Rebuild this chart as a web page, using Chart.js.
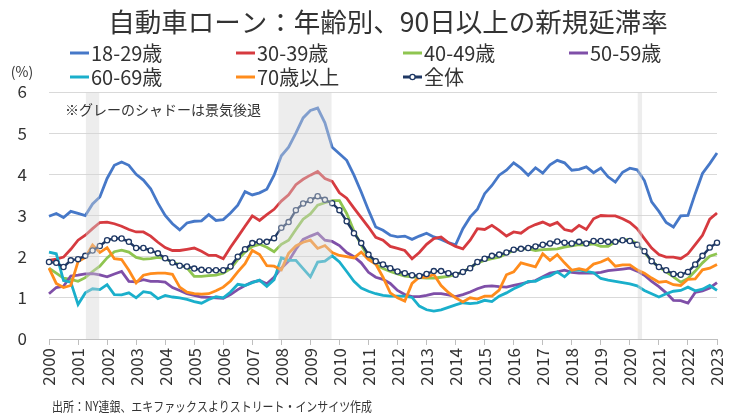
<!DOCTYPE html>
<html><head><meta charset="utf-8">
<script src="https://cdn.jsdelivr.net/npm/chart.js@4.4.1/dist/chart.umd.min.js"></script>
<style>html,body{margin:0;padding:0;background:#fff;}canvas{display:block;}</style>
</head><body>
<canvas id="c" width="733" height="419"></canvas>
<script>
const FONT = '"Noto Sans CJK JP","Noto Sans",sans-serif';
const TEXT = '#333333';

// quarterly categories 2000Q1 .. 2023Q1
const quarters = [];
for (let y = 2000; y <= 2023; y++) for (let q = 1; q <= 4; q++) { if (y === 2023 && q > 1) break; quarters.push(y + 'Q' + q); }

const seriesNames = ['18-29歳','30-39歳','40-49歳','50-59歳','60-69歳','70歳以上','全体'];

const age18_29 = [2.98,3.05,2.95,3.10,3.05,3.00,3.28,3.45,3.90,4.22,4.30,4.22,4.00,3.86,3.65,3.30,
3.00,2.80,2.65,2.82,2.86,2.87,3.02,2.88,2.90,3.06,3.25,3.58,3.50,3.55,3.64,3.98,
4.45,4.66,5.00,5.37,5.55,5.61,5.25,4.66,4.50,4.34,3.98,3.57,3.13,2.72,2.64,2.52,
2.48,2.50,2.42,2.50,2.57,2.48,2.42,2.34,2.29,2.68,2.96,3.15,3.53,3.73,3.98,4.10,
4.28,4.15,3.98,4.16,4.03,4.23,4.34,4.28,4.10,4.12,4.18,4.04,4.15,3.94,3.81,4.05,
4.15,4.11,3.85,3.33,3.10,2.83,2.72,2.99,3.00,3.53,4.02,4.26,4.52];

const age30_39 = [1.91,1.94,1.99,2.18,2.40,2.52,2.68,2.83,2.84,2.80,2.74,2.66,2.60,2.60,2.50,2.35,
2.22,2.15,2.15,2.18,2.21,2.13,2.03,2.03,1.95,2.23,2.48,2.74,2.99,2.88,3.02,3.15,
3.35,3.50,3.75,3.88,3.98,4.07,3.90,3.83,3.55,3.42,3.18,2.95,2.72,2.47,2.40,2.25,
2.20,2.15,1.95,2.10,2.30,2.44,2.48,2.34,2.25,2.19,2.40,2.68,2.66,2.76,2.64,2.50,
2.60,2.57,2.70,2.78,2.84,2.76,2.83,2.66,2.62,2.76,2.66,2.92,3.00,2.99,2.99,2.92,
2.83,2.68,2.44,2.21,2.05,1.99,1.99,1.95,2.07,2.29,2.52,2.91,3.06];

const age40_49 = [1.72,1.60,1.48,1.45,1.40,1.49,1.64,1.77,1.97,2.12,2.16,2.11,1.98,1.94,1.95,1.98,
1.95,1.87,1.80,1.73,1.52,1.52,1.54,1.55,1.60,1.71,1.93,2.11,2.25,2.30,2.23,2.12,
2.30,2.40,2.66,2.91,3.04,3.25,3.31,3.36,3.36,3.05,2.62,2.28,1.98,1.81,1.71,1.64,
1.58,1.53,1.51,1.49,1.48,1.48,1.50,1.52,1.56,1.63,1.73,1.85,1.91,1.95,1.99,2.07,
2.15,2.19,2.19,2.15,2.17,2.18,2.19,2.23,2.26,2.29,2.29,2.31,2.25,2.25,2.36,2.40,
2.42,2.31,2.11,1.89,1.75,1.63,1.51,1.38,1.47,1.65,1.85,2.01,2.07];

const age50_59 = [1.10,1.25,1.28,1.53,1.55,1.58,1.59,1.56,1.51,1.58,1.64,1.40,1.39,1.44,1.40,1.40,
1.38,1.25,1.18,1.10,1.06,1.02,1.01,1.00,0.99,1.08,1.20,1.30,1.38,1.42,1.34,1.50,
1.72,1.89,2.18,2.42,2.50,2.57,2.40,2.37,2.27,2.10,2.00,1.85,1.62,1.50,1.45,1.35,
1.18,1.08,1.03,1.03,1.06,1.10,1.10,1.07,1.03,1.08,1.14,1.22,1.28,1.29,1.27,1.26,
1.30,1.34,1.38,1.42,1.51,1.60,1.63,1.67,1.62,1.60,1.60,1.60,1.62,1.66,1.68,1.70,
1.72,1.65,1.55,1.40,1.27,1.12,0.94,0.93,0.87,1.13,1.17,1.24,1.37];

const age60_69 = [2.11,2.07,1.42,1.38,0.84,1.12,1.22,1.20,1.32,1.08,1.07,1.12,1.00,1.15,1.12,0.98,
1.06,1.02,1.00,0.96,0.91,0.87,0.96,1.03,1.00,1.14,1.33,1.30,1.37,1.43,1.28,1.44,
1.97,1.91,1.91,1.71,1.51,1.87,1.89,2.02,1.87,1.64,1.40,1.24,1.16,1.10,1.06,1.04,
1.04,1.04,1.01,0.80,0.71,0.68,0.71,0.77,0.83,0.88,0.86,0.88,0.94,0.91,1.04,1.12,
1.22,1.30,1.40,1.40,1.49,1.53,1.63,1.51,1.67,1.68,1.64,1.61,1.47,1.43,1.40,1.37,
1.34,1.29,1.18,1.10,1.02,1.10,1.16,1.18,1.26,1.17,1.21,1.30,1.18];

const age70plus = [1.72,1.35,1.25,1.30,1.88,1.98,2.28,2.10,2.22,1.95,1.93,1.67,1.36,1.55,1.59,1.60,
1.60,1.57,1.26,1.14,1.10,1.09,1.10,1.17,1.26,1.41,1.63,1.83,2.15,2.05,1.78,1.77,
1.68,2.08,2.26,2.35,2.40,2.20,2.27,2.10,2.03,2.00,1.97,2.11,1.93,1.82,1.50,1.12,
1.00,0.92,1.35,1.50,1.50,1.57,1.30,1.13,1.00,0.90,1.00,0.97,1.04,1.04,1.19,1.56,
1.63,1.85,1.80,1.75,2.07,1.91,2.05,1.85,1.67,1.71,1.67,1.82,1.87,1.95,1.77,1.80,
1.80,1.68,1.60,1.48,1.38,1.40,1.32,1.30,1.45,1.46,1.68,1.72,1.81];

const overall = [1.87,1.85,1.75,1.91,1.94,2.02,2.15,2.26,2.40,2.44,2.44,2.36,2.21,2.21,2.15,2.08,
1.96,1.86,1.78,1.76,1.71,1.68,1.67,1.67,1.67,1.76,2.00,2.18,2.33,2.37,2.36,2.45,
2.70,2.84,3.13,3.29,3.37,3.47,3.38,3.30,3.13,2.86,2.57,2.33,2.05,1.89,1.81,1.72,
1.64,1.60,1.55,1.53,1.58,1.65,1.65,1.60,1.56,1.63,1.72,1.87,1.95,2.02,2.05,2.10,
2.17,2.19,2.21,2.25,2.29,2.32,2.37,2.34,2.32,2.36,2.32,2.38,2.38,2.36,2.36,2.40,
2.38,2.29,2.13,1.89,1.75,1.67,1.58,1.56,1.63,1.81,2.02,2.22,2.34];

const yTicks = [0,1,2,3,4,5,6];
// recession periods (fractional years)
const recessions = [[2001.27, 2001.73], [2007.90, 2009.73], [2020.27, 2020.42]];

const titleText = '自動車ローン：年齢別、90日以上の新規延滞率';
const noteText = '※グレーのシャドーは景気後退';
const sourceText = '出所：NY連銀、エキファックスよりストリート・インサイツ作成';
const unitText = '(%)';

const colors = ['#4678C8','#D63A3F','#8FC550','#7F4FA8','#1AAFCB','#FF8C1C','#1F3864'];
const values = [age18_29, age30_39, age40_49, age50_59, age60_69, age70plus, overall];

const datasets = values.map((v, k) => ({
  label: seriesNames[k],
  data: v,
  borderColor: colors[k],
  backgroundColor: colors[k],
  borderWidth: k === 6 ? 2.4 : 2.8,
  pointRadius: k === 6 ? 2.6 : 0,
  pointBackgroundColor: '#ffffff',
  pointBorderColor: colors[k],
  pointBorderWidth: 1.3,
  tension: 0,
  fill: false,
  order: 6 - k
}));

const legendPos = [[70,53],[236,53],[403,53],[569,53],[70,77],[236,77],[403,77]];

const decor = {
  id: 'decor',
  afterDatasetsDraw(chart) {
    const ctx = chart.ctx, a = chart.chartArea, xs = chart.scales.x;
    ctx.save();
    ctx.fillStyle = 'rgba(212,212,212,0.42)';
    recessions.forEach(([s, e]) => {
      const x0 = xs.getPixelForValue((s - 2000) * 4);
      const x1 = xs.getPixelForValue((e - 2000) * 4);
      ctx.fillRect(x0, a.top, x1 - x0, a.bottom - a.top);
    });
    ctx.restore();
  },
  afterDraw(chart) {
    const ctx = chart.ctx;
    ctx.save();
    ctx.fillStyle = TEXT;
    ctx.textBaseline = 'middle';
    ctx.textAlign = 'center';
    ctx.font = '26.5px ' + FONT;
    ctx.fillText(titleText, 388, 22);
    // legend
    ctx.textAlign = 'left';
    ctx.font = '20px ' + FONT;
    chart.data.datasets.forEach((ds, k) => {
      const [x, y] = legendPos[k];
      ctx.strokeStyle = ds.borderColor;
      ctx.lineWidth = 3;
      ctx.beginPath(); ctx.moveTo(x, y); ctx.lineTo(x + 19, y); ctx.stroke();
      if (ds.pointRadius > 0) {
        ctx.beginPath(); ctx.arc(x + 9.5, y, 2.6, 0, Math.PI * 2);
        ctx.fillStyle = '#fff'; ctx.fill();
        ctx.lineWidth = 1.3; ctx.stroke();
      }
      ctx.fillStyle = TEXT;
      ctx.fillText(ds.label, x + 21, y);
    });
    // unit
    ctx.font = '14px ' + FONT;
    ctx.textAlign = 'center';
    ctx.fillText(unitText, 22, 72);
    // note
    ctx.textAlign = 'left';
    ctx.font = '14px ' + FONT;
    ctx.fillText(noteText, 65, 110);
    // source
    ctx.font = '13px ' + FONT;
    const w = ctx.measureText(sourceText).width;
    ctx.translate(52, 406);
    ctx.scale(320 / w, 1);
    ctx.fillText(sourceText, 0, 0);
    ctx.restore();
  }
};

new Chart(document.getElementById('c'), {
  type: 'line',
  data: { labels: quarters, datasets },
  plugins: [decor],
  options: {
    responsive: false,
    animation: false,
    devicePixelRatio: 1,
    layout: { padding: { top: 92, right: 16, left: 0, bottom: 0 } },
    plugins: { legend: { display: false }, title: { display: false }, tooltip: { enabled: false } },
    scales: {
      x: {
        type: 'category',
        offset: false,
        afterFit(s) { s.height = 80; s.paddingLeft = 0; s.paddingRight = 0; },
        grid: {
          drawOnChartArea: false,
          tickLength: 6,
          tickColor: (c) => (c.index % 4 === 0 ? '#bfbfbf' : 'rgba(0,0,0,0)')
        },
        border: { color: '#bfbfbf', width: 1 },
        ticks: {
          autoSkip: false,
          minRotation: 90,
          maxRotation: 90,
          padding: 3,
          color: TEXT,
          font: { family: FONT, size: 17 },
          callback: (v, i) => (i % 4 === 0 ? quarters[i].slice(0, 4) : '')
        }
      },
      y: {
        min: 0, max: 6,
        afterFit(s) { s.width = 49; },
        afterBuildTicks(s) { s.ticks = yTicks.map(v => ({ value: v })); },
        grid: { color: '#d9d9d9', lineWidth: 1, drawTicks: false },
        border: { display: false },
        ticks: { padding: 22, color: TEXT, font: { family: FONT, size: 17 } }
      }
    }
  }
});
</script>
</body></html>
